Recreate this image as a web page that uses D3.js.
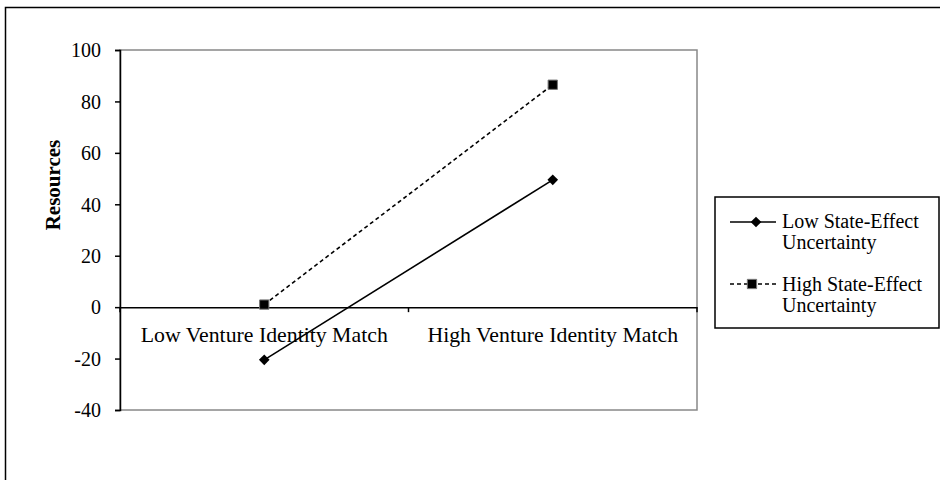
<!DOCTYPE html>
<html><head><meta charset="utf-8">
<script src="https://cdn.jsdelivr.net/npm/d3@7"></script>
<style>body{margin:0;background:#fff}svg{display:block}text{font-family:"Liberation Serif","Times New Roman",serif;fill:#000}</style>
</head><body><svg id="c" width="940" height="480"></svg>
<script>
const categories = ["Low Venture Identity Match", "High Venture Identity Match"];
const seriesNames = ["Low State-Effect Uncertainty", "High State-Effect Uncertainty"];
const legendLines = [["Low State-Effect", "Uncertainty"], ["High State-Effect", "Uncertainty"]];
const lowUncertainty = [-20.5, 49.5];
const highUncertainty = [1, 86.5];
const yTicks = [-40, -20, 0, 20, 40, 60, 80, 100];
const yTitle = "Resources";

const svg = d3.select("#c");
const m = {l:120, t:50, r:697, b:410};
const x = d3.scaleBand().domain(categories).range([m.l, m.r]);
const y = d3.scaleLinear().domain([-40, 100]).range([m.b, m.t]);

// outer border
svg.append("rect").attr("x",5.5).attr("y",7.5).attr("width",940).attr("height",480)
  .attr("fill","none").attr("stroke","#000").attr("stroke-width",1.5);

// plot area border
svg.append("rect").attr("x",m.l).attr("y",m.t).attr("width",m.r-m.l).attr("height",m.b-m.t)
  .attr("fill","none").attr("stroke","#888").attr("stroke-width",1.5);

// y axis
const ya = svg.append("g").attr("transform",`translate(${m.l},0)`)
  .call(d3.axisLeft(y).tickValues(yTicks).tickSize(5).tickPadding(14).tickFormat(d => String(d)));
ya.select(".domain").attr("stroke","#000").attr("stroke-width",1.5);
ya.selectAll(".tick line").attr("stroke","#000").attr("stroke-width",1.5);
ya.selectAll(".tick text").attr("font-size",20).attr("font-family","Liberation Serif").attr("dy","0.34em");

// x axis at zero
const xa = svg.append("g").attr("transform",`translate(0,${y(0)})`)
  .call(d3.axisBottom(x).tickSize(0).tickPadding(0));
xa.select(".domain").attr("stroke","#000").attr("stroke-width",1.5);
xa.selectAll(".tick text").attr("font-size",20).attr("font-family","Liberation Serif")
  .attr("y",0).attr("dy",0).attr("transform","translate(0,35) scale(1.09,1)");
// boundary ticks between categories
const bounds = [m.l, m.l + x.step(), m.r];
svg.append("g").selectAll("line").data(bounds).join("line")
  .attr("x1",d=>d).attr("x2",d=>d).attr("y1",y(0)).attr("y2",y(0)+5)
  .attr("stroke","#000").attr("stroke-width",1.5);

// y title
svg.append("text").attr("transform","translate(60,185) rotate(-90)")
  .attr("text-anchor","middle").attr("font-weight","bold").attr("font-size",21).text(yTitle);

const cx = d => x(d) + x.bandwidth()/2;
const line = d3.line().x((d,i)=>cx(categories[i])).y(d=>y(d));

// lines
svg.append("path").datum(lowUncertainty).attr("d",line).attr("fill","none")
  .attr("stroke","#000").attr("stroke-width",1.6);
svg.append("path").datum(highUncertainty).attr("d",line).attr("fill","none")
  .attr("stroke","#000").attr("stroke-width",1.6).attr("stroke-dasharray","4,3");

const diamond = d3.symbol().type(d3.symbolDiamond2).size(72);
const square = d3.symbol().type(d3.symbolSquare2).size(110);

svg.append("g").selectAll("path").data(lowUncertainty).join("path")
  .attr("d",diamond).attr("transform",(d,i)=>`translate(${cx(categories[i])},${y(d)})`).attr("fill","#000");
svg.append("g").selectAll("path").data(highUncertainty).join("path")
  .attr("d",square).attr("transform",(d,i)=>`translate(${cx(categories[i])},${y(d)})`)
  .attr("fill","#000").attr("stroke","#777").attr("stroke-width",1);

// legend
const lg = svg.append("g");
lg.append("rect").attr("x",715).attr("y",197).attr("width",224).attr("height",131)
  .attr("fill","#fff").attr("stroke","#000").attr("stroke-width",1.5);
const entries = [
  {y:222, dash:null, sym:diamond, stroke:null, sx:756},
  {y:284, dash:"4,3", sym:square, stroke:"#777", sx:752}
];
entries.forEach((e,i)=>{
  lg.append("line").attr("x1",730).attr("x2",776).attr("y1",e.y).attr("y2",e.y)
    .attr("stroke","#000").attr("stroke-width",1.6).attr("stroke-dasharray",e.dash);
  lg.append("path").attr("d",e.sym).attr("transform",`translate(${e.sx},${e.y})`).attr("fill","#000")
    .attr("stroke",e.stroke);
  const t = lg.append("text").attr("x",782).attr("y",e.y+6+i).attr("font-size",20)
    .attr("aria-label",seriesNames[i]);
  legendLines[i].forEach((s,j)=>t.append("tspan").attr("x",782).attr("dy",j?21:0).text(s));
});
</script></body></html>
